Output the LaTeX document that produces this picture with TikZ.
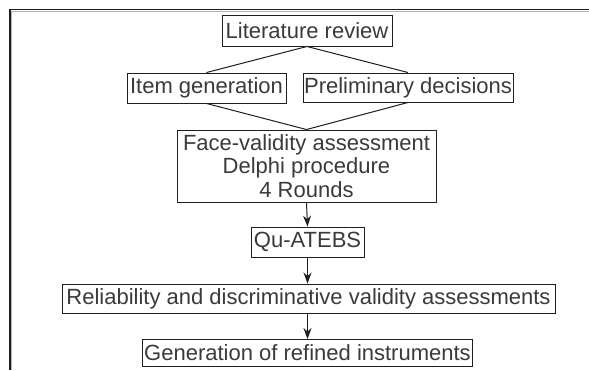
\documentclass[tikz,border=0pt]{standalone}
\usepackage{fontspec}
\setmainfont{Liberation Sans}
\usetikzlibrary{arrows.meta}
\definecolor{txt}{HTML}{3A3A3A}
\definecolor{ln}{HTML}{1E1E1E}
\begin{document}
\begin{tikzpicture}[x=1pt,y=-1pt,
  box/.style={draw=ln,line width=0.95pt,rectangle,inner sep=0pt,text=txt,
    font=\fontsize{22}{23.5}\selectfont,align=center},
  link/.style={draw=ln,line width=1pt},
  arr/.style={draw=ln,line width=1pt,-{Stealth[length=11pt,width=8pt]}}]
\useasboundingbox (0,0) rectangle (589,370);
% open frame (top and left edges)
\draw[ln,line width=1.3pt] (10,370) -- (10,9.5) -- (589,9.5);
\draw[gray!60,line width=0.6pt] (11.5,370) -- (11.5,11) -- (589,11);
% nodes
\node[box,minimum width=170pt,minimum height=31pt] (lit) at (307,30.5) {Literature review};
\node[box,minimum width=159pt,minimum height=30pt] (item) at (206.5,88) {Item generation};
\node[box,minimum width=210pt,minimum height=29pt] (prel) at (408,87.5) {Preliminary decisions};
\node[box,minimum width=259pt,minimum height=72pt] (face) at (306.5,166) {Face-validity assessment\\Delphi procedure\\4 Rounds};
\node[box,minimum width=113pt,minimum height=30pt] (qu) at (307.5,242) {Qu-ATEBS};
\node[box,minimum width=493pt,minimum height=29pt] (rel) at (308.5,298.5) {Reliability and discriminative validity assessments};
\node[box,minimum width=330pt,minimum height=27pt] (gen) at (307.5,353) {Generation of refined instruments};
% connectors
\draw[link] (lit.south) -- (item.north);
\draw[link] (lit.south) -- (prel.north);
\draw[link] (item.south) -- (face.north);
\draw[link] (prel.south) -- (face.north);
\draw[arr] (face.south) -- (qu.north);
\draw[arr] (qu.south) -- (qu.south |- rel.north);
\draw[arr] (gen.north |- rel.south) -- (gen.north);
\end{tikzpicture}
\end{document}
